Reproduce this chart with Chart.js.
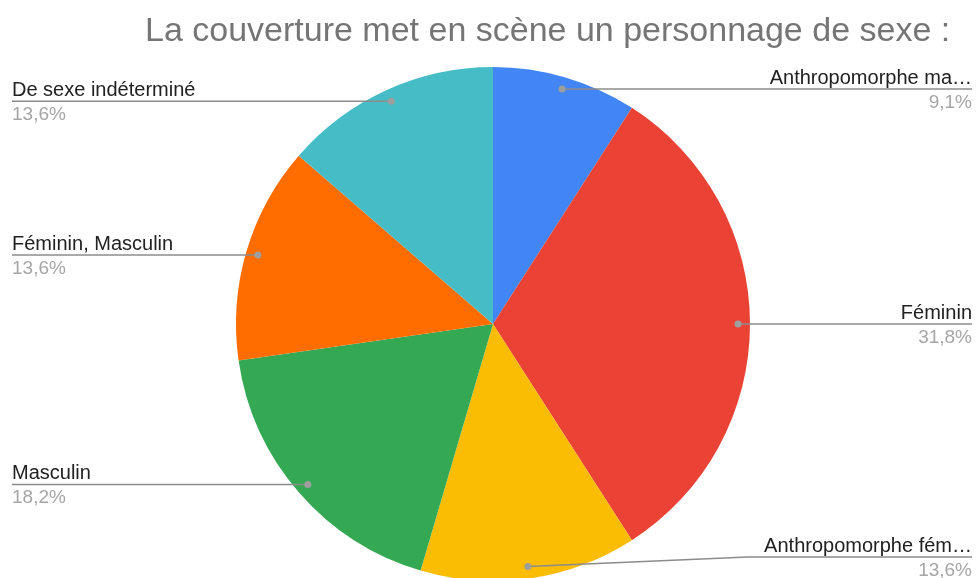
<!DOCTYPE html>
<html>
<head>
<meta charset="utf-8">
<script src="https://cdn.jsdelivr.net/npm/chart.js@4.4.1/dist/chart.umd.min.js"></script>
<style>
  html, body { margin:0; padding:0; background:#fff; overflow:hidden; }
  #wrap { width:976px; height:578px; position:relative; }
</style>
</head>
<body>
<div id="wrap"><canvas id="pie" width="976" height="578"></canvas></div>
<script>
const chartTitle = "La couverture met en scène un personnage de sexe :";
const categories = [
  "Anthropomorphe ma…",
  "Féminin",
  "Anthropomorphe fém…",
  "Masculin",
  "Féminin, Masculin",
  "De sexe indéterminé"
];
const counts = [2, 7, 3, 4, 3, 3];
const colors = ["#4285F4", "#EA4335", "#FBBC04", "#34A853", "#FF6D01", "#46BDC6"];

const FONT = "Arial, 'Liberation Sans', sans-serif";

// title + leader-line labels, Google Sheets style
const sheetLabels = {
  id: "sheetLabels",
  afterDraw(chart) {
    const ctx = chart.ctx;
    const W = chart.width, H = chart.height;
    const total = counts.reduce((a, b) => a + b, 0);

    ctx.save();
    ctx.font = "34px " + FONT;
    ctx.fillStyle = "#757575";
    ctx.textAlign = "left";
    ctx.textBaseline = "alphabetic";
    ctx.fillText(chartTitle, 145, 41);

    const arcs = chart.getDatasetMeta(0).data;
    arcs.forEach((arc, i) => {
      const mid = (arc.startAngle + arc.endAngle) / 2;
      const r = arc.outerRadius - 12;
      const dx = arc.x + Math.cos(mid) * r;
      const dy = arc.y + Math.sin(mid) * r;
      const right = Math.cos(mid) >= 0;
      const ly = Math.min(dy, H - 21);
      const ex = right ? W - 4 : 12;

      ctx.strokeStyle = "#8c8c8c";
      ctx.lineWidth = 1.5;
      ctx.beginPath();
      ctx.moveTo(dx, dy);
      if (ly !== dy) {
        ctx.lineTo(dx + (right ? 220 : -220), ly);
      }
      ctx.lineTo(ex, ly);
      ctx.stroke();

      ctx.fillStyle = "#9e9e9e";
      ctx.beginPath();
      ctx.arc(dx, dy, 3.5, 0, Math.PI * 2);
      ctx.fill();

      const pct = (counts[i] / total * 100).toFixed(1).replace(".", ",") + "%";
      ctx.textAlign = right ? "right" : "left";
      ctx.font = "20px " + FONT;
      ctx.fillStyle = "#212121";
      ctx.textBaseline = "alphabetic";
      ctx.fillText(categories[i], ex, ly - 5);
      ctx.font = "19px " + FONT;
      ctx.fillStyle = "#a6a6a6";
      ctx.textBaseline = "top";
      ctx.fillText(pct, ex, ly + 4);
    });
    ctx.restore();
  }
};

new Chart(document.getElementById("pie"), {
  type: "pie",
  data: {
    labels: categories,
    datasets: [{
      data: counts,
      backgroundColor: colors,
      borderWidth: 0
    }]
  },
  options: {
    responsive: false,
    animation: false,
    radius: 257,
    layout: { padding: { top: 70, left: 10, right: 0, bottom: 0 } },
    plugins: {
      legend: { display: false },
      tooltip: { enabled: false },
      title: { display: false }
    }
  },
  plugins: [sheetLabels]
});
</script>
</body>
</html>
